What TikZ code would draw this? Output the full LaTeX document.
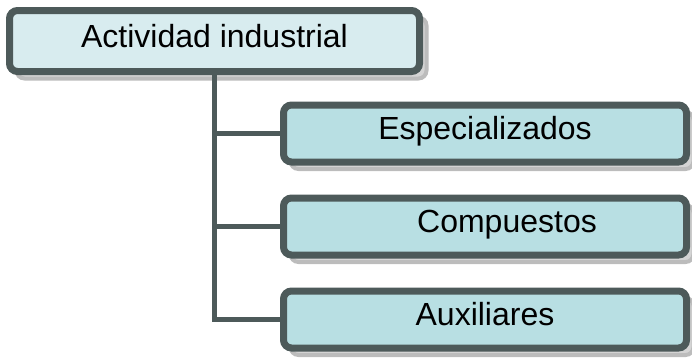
\documentclass[tikz,border=0pt]{standalone}
\usepackage{fontspec}
\setmainfont{Liberation Sans}
\definecolor{edge}{RGB}{77,90,90}
\definecolor{topfill}{RGB}{216,236,239}
\definecolor{childfill}{RGB}{184,223,227}
\definecolor{shadowgray}{RGB}{212,212,212}
\definecolor{shadowedge}{RGB}{188,188,188}
\tikzset{
  boxbase/.style={rounded corners=8pt, line width=7pt, draw=edge, inner sep=0pt,
    font=\fontsize{32}{36}\selectfont, text height=20pt, text depth=8pt,
    preaction={draw=shadowedge, fill=shadowgray, line width=4pt, transform canvas={shift={(7pt,-7pt)}}}},
  topbox/.style={boxbase, fill=topfill, minimum width=410pt, minimum height=61pt},
  childbox/.style={boxbase, fill=childfill, minimum width=403pt, minimum height=57pt},
  conn/.style={draw=edge, line width=5pt}
}
\begin{document}
\begin{tikzpicture}[x=1pt,y=-1pt]
\useasboundingbox (0,0) rectangle (692,359);
\node[topbox] (top) at (214.5,41) {Actividad industrial};
\node[childbox] (c1) at (485,133.5) {Especializados};
\node[childbox] (c2) at (485,226.5) {\hspace*{44pt}Compuestos};
\node[childbox] (c3) at (485,319.5) {Auxiliares};
\draw[conn] (top.south) -- (top.south |- c3.west) -- (c3.west);
\draw[conn] (top.south |- c1.west) -- (c1.west);
\draw[conn] (top.south |- c2.west) -- (c2.west);
\end{tikzpicture}
\end{document}
